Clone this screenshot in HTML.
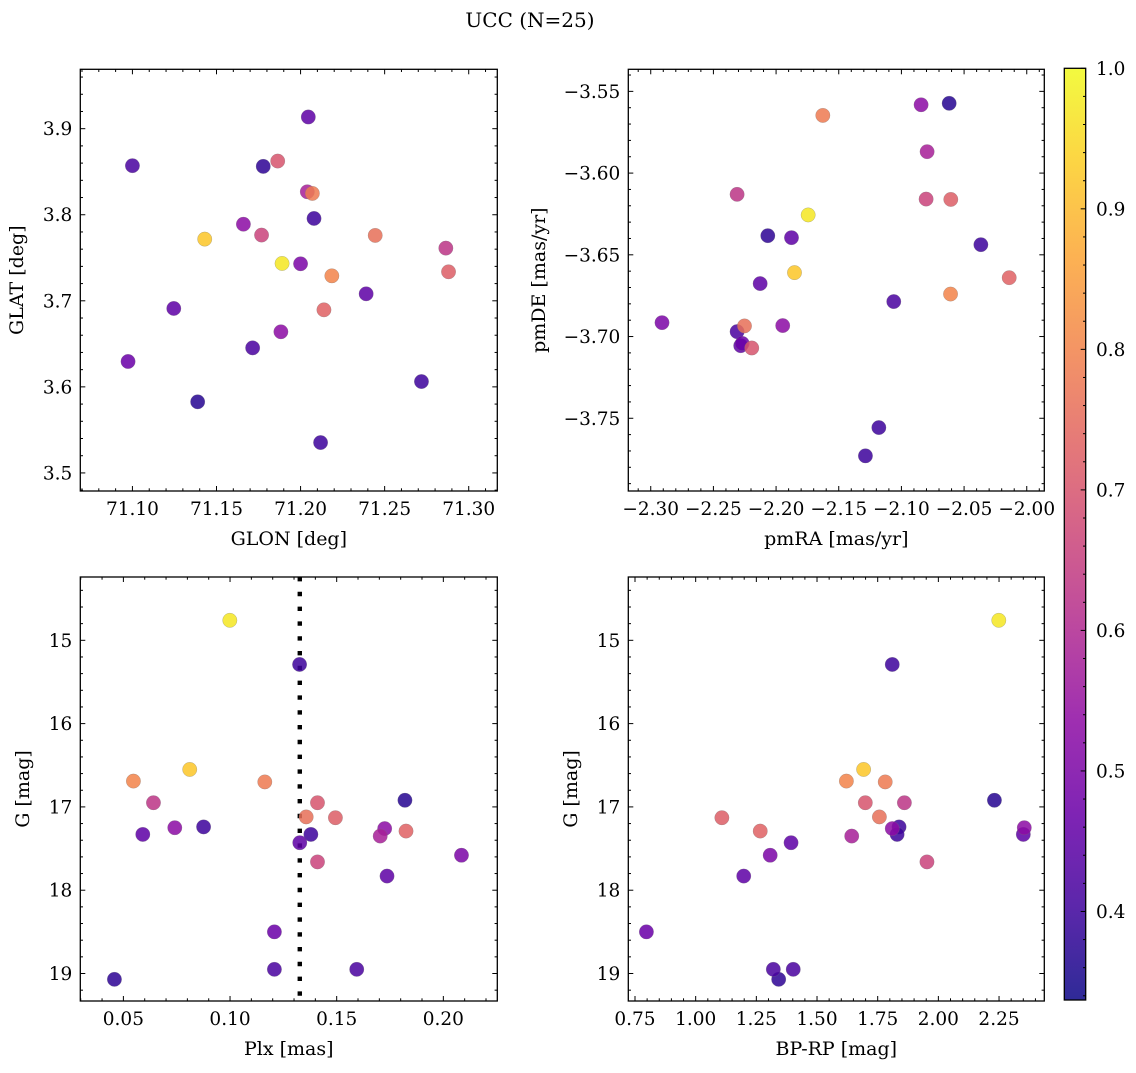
<!DOCTYPE html>
<html><head><meta charset="utf-8"><style>
html,body{margin:0;padding:0;background:#fff;}
svg text{font-family:"DejaVu Serif","Liberation Serif",serif;fill:#000;}
</style></head><body>
<svg id="fig" width="1136" height="1068" viewBox="0 0 1136 1068" xmlns="http://www.w3.org/2000/svg">
<text x="530" y="27" font-size="20" text-anchor="middle">UCC (N=25)</text>
<g id="panels"></g>
<g id="cbar"></g>
</svg>
<script>
// membership probability (color)
const prob = [0.37,0.38,0.40,0.40,0.40,0.42,0.42,0.45,0.45,0.45,0.47,0.50,0.53,0.53,0.58,0.63,0.66,0.70,0.72,0.73,0.76,0.78,0.80,0.92,0.97];
const glon = [71.1388,71.1778,71.208,71.2719,71.2119,71.100,71.1715,71.2046,71.239,71.1246,71.0974,71.200,71.1883,71.166,71.204,71.2864,71.1768,71.1864,71.288,71.2139,71.2444,71.207,71.2186,71.143,71.189];
const glat = [3.5826,3.8562,3.7957,3.6062,3.5353,3.857,3.6453,3.9136,3.7081,3.6911,3.6295,3.743,3.664,3.789,3.8267,3.7612,3.7764,3.8624,3.7337,3.6895,3.776,3.8248,3.729,3.7717,3.7434];
const pmra = [-2.0619,-2.2066,-2.0366,-2.1180,-2.1287,-2.1061,-2.2311,-2.2282,-2.1877,-2.2127,-2.227,-2.2910,-2.1947,-2.0843,-2.0795,-2.2311,-2.0803,-2.2194,-2.0606,-2.0140,-2.2252,-2.1627,-2.0608,-2.1853,-2.1744];
const pmde = [-3.5573,-3.6383,-3.6438,-3.7557,-3.7730,-3.6786,-3.6970,-3.7056,-3.6395,-3.6676,-3.7042,-3.6915,-3.6933,-3.5582,-3.5869,-3.6130,-3.6159,-3.7070,-3.6161,-3.6640,-3.6935,-3.5647,-3.6740,-3.6609,-3.6256];
const plx = [0.182,0.0458,0.1326,0.0876,0.1379,0.1208,0.1594,0.1327,0.0591,0.1736,0.1208,0.2085,0.1725,0.0741,0.1704,0.0641,0.1410,0.1410,0.1494,0.1825,0.1357,0.1163,0.0547,0.0811,0.0999];
const gmag = [16.92,19.07,15.29,17.24,17.33,18.95,18.95,17.43,17.33,17.83,18.50,17.58,17.26,17.25,17.35,16.95,17.66,16.95,17.13,17.29,17.12,16.70,16.69,16.55,14.76];
const bprp = [2.231,1.342,1.810,1.838,1.830,1.320,1.402,1.393,2.350,1.198,0.797,1.307,1.810,2.354,1.643,1.860,1.953,1.699,1.108,1.266,1.757,1.781,1.621,1.692,2.249];
const plxLine = [0.1327];
const cbarTicks = [0.4,0.5,0.6,0.7,0.8,0.9,1.0];
const cbarRange = [0.337,1.0];

const NS="http://www.w3.org/2000/svg";
function mk(tag,attrs,parent){const e=document.createElementNS(NS,tag);for(const k in attrs)e.setAttribute(k,attrs[k]);if(parent)parent.appendChild(e);return e;}
const stops=[[13,8,135],[65,4,157],[106,0,168],[143,13,164],[177,42,144],[204,71,120],[225,100,98],[242,132,75],[252,166,54],[252,206,37],[240,249,33]];
function plasma(t){t=Math.max(0,Math.min(1,t));const s=t*10,i=Math.min(9,Math.floor(s)),f=s-i;const a=stops[i],b=stops[i+1];
 const c=a.map((v,k)=>Math.round(v+(b[k]-v)*f));return `rgb(${c[0]},${c[1]},${c[2]})`;}
function col(p){return plasma((p-cbarRange[0])/(cbarRange[1]-cbarRange[0]));}
function fmt(v,d){const s=v.toFixed(d);return s.replace('-','\u2212');}

const TF=18.5, LF=19;
const panels=[
 {name:'glon-glat',L:80.3,R:497.3,T:69.3,B:491,xl:[71.069,71.317],yl:[3.479,3.969],xs:glon,ys:glat,xmaj:0.05,xmin:0.01,ymaj:0.1,ymin:0.02,xd:2,yd:1,xlabel:'GLON [deg]',ylabel:'GLAT [deg]',ylx:23},
 {name:'pmra-pmde',L:628.3,R:1044.3,T:69.3,B:491,xl:[-2.3179,-1.986],yl:[-3.7945,-3.5365],xs:pmra,ys:pmde,xmaj:0.05,xmin:0.01,ymaj:0.05,ymin:0.01,xd:2,yd:2,xlabel:'pmRA [mas/yr]',ylabel:'pmDE [mas/yr]',ylx:545},
 {name:'plx-g',L:80.3,R:497.3,T:577,B:1001,xl:[0.0298,0.2253],yl:[19.33,14.24],xs:plx,ys:gmag,xmaj:0.05,xmin:0.01,ymaj:1,ymin:0.2,xd:2,yd:0,xlabel:'Plx [mas]',ylabel:'G [mag]',ylx:29,vline:true},
 {name:'bprp-g',L:628.3,R:1044.3,T:577,B:1001,xl:[0.7224,2.4365],yl:[19.33,14.24],xs:bprp,ys:gmag,xmaj:0.25,xmin:0.05,ymaj:1,ymin:0.2,xd:2,yd:0,xlabel:'BP-RP [mag]',ylabel:'G [mag]',ylx:577}
];
const root=document.getElementById('panels');
panels.forEach(P=>{
 const g=mk('g',{},root);
 
 
 const X=v=>P.L+(v-P.xl[0])/(P.xl[1]-P.xl[0])*(P.R-P.L);
 const Y=v=>P.B-(v-P.yl[0])/(P.yl[1]-P.yl[0])*(P.B-P.T);
 const xlo=Math.min(...P.xl),xhi=Math.max(...P.xl),ylo=Math.min(...P.yl),yhi=Math.max(...P.yl);
 const tg=mk('g',{stroke:'#000','stroke-width':1},g);
 
 
 for(let k=Math.ceil(xlo/P.xmin-1e-6);k*P.xmin<=xhi+1e-9;k++){const v=k*P.xmin;const isM=Math.abs(v/P.xmaj-Math.round(v/P.xmaj))<1e-4;const l=isM?5:2.7;const x=X(v);
  mk('line',{x1:x,x2:x,y1:P.B,y2:P.B-l},tg);mk('line',{x1:x,x2:x,y1:P.T,y2:P.T+l},tg);
  if(isM){const t=mk('text',{x:x,y:P.B+24,'font-size':TF,'text-anchor':'middle',stroke:'none'},g);t.textContent=fmt(v,P.xd);
   }}
 for(let k=Math.ceil(ylo/P.ymin-1e-6);k*P.ymin<=yhi+1e-9;k++){const v=k*P.ymin;const isM=Math.abs(v/P.ymaj-Math.round(v/P.ymaj))<1e-4;const l=isM?5:2.7;const y=Y(v);
  mk('line',{x1:P.L,x2:P.L+l,y1:y,y2:y},tg);mk('line',{x1:P.R,x2:P.R-l,y1:y,y2:y},tg);
  if(isM){const t=mk('text',{x:P.L-8,y:y+6.5,'font-size':TF,'text-anchor':'end',stroke:'none'},g);t.textContent=fmt(v,P.yd);
   }}
 if(P.vline){const x=X(plxLine[0]);const ln=mk('line',{x1:x,x2:x,y1:P.T,y2:P.B,stroke:'#000','stroke-width':4.4,'stroke-dasharray':'4.4 10.4'},g);
  }
 for(let i=0;i<P.xs.length;i++){const c=mk('circle',{cx:X(P.xs[i]),cy:Y(P.ys[i]),r:7.2,fill:col(prob[i]),'fill-opacity':0.86,stroke:'#777','stroke-opacity':0.5,'stroke-width':0.5},g);
  }
 const fr=mk('rect',{x:P.L,y:P.T,width:P.R-P.L,height:P.B-P.T,fill:'none',stroke:'#000','stroke-width':1.3},g);
 
 const xt=mk('text',{x:(P.L+P.R)/2,y:P.B+54,'font-size':LF,'text-anchor':'middle'},g);xt.textContent=P.xlabel;
 
 const cy=(P.T+P.B)/2;const yt=mk('text',{x:P.ylx,y:cy,'font-size':LF,'text-anchor':'middle',transform:`rotate(-90 ${P.ylx} ${cy})`},g);yt.textContent=P.ylabel;
 
});
const cb=document.getElementById('cbar');const CL=1064.3,CR=1085.7,CT=68.3,CB=1000;
const defs=mk('defs',{},cb);const lg=mk('linearGradient',{id:'pl',x1:0,y1:1,x2:0,y2:0},defs);
for(let k=0;k<=20;k++){mk('stop',{offset:k/20,'stop-color':plasma(k/20),'stop-opacity':0.86},lg);}
const cr=mk('rect',{x:CL,y:CT,width:CR-CL,height:CB-CT,fill:'url(#pl)',stroke:'#000','stroke-width':1.3},cb);

const CY=v=>CB-(v-cbarRange[0])/(cbarRange[1]-cbarRange[0])*(CB-CT);
for(let k=Math.ceil(cbarRange[0]/0.02);k*0.02<=cbarRange[1]+1e-9;k++){const v=k*0.02;const y=CY(v);const isM=cbarTicks.some(t=>Math.abs(t-v)<1e-6);
 mk('line',{x1:CR,x2:CR-(isM?5:2.7),y1:y,y2:y,stroke:'#000','stroke-width':1},cb);}
cbarTicks.forEach(v=>{const t=mk('text',{x:1096,y:CY(v)+6.5,'font-size':TF},cb);t.textContent=v.toFixed(1);
 });
</script>
</body></html>
